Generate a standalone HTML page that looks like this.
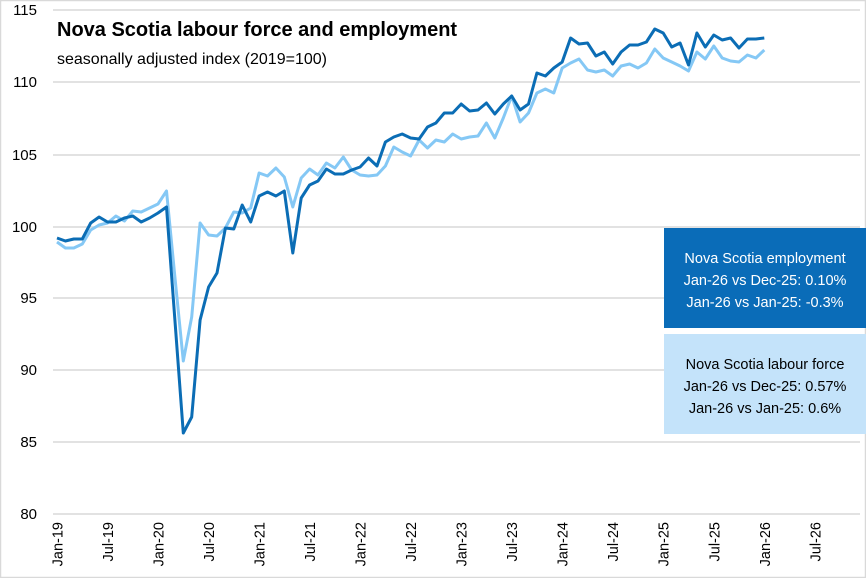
<!DOCTYPE html>
<html><head><meta charset="utf-8"><style>
html,body{margin:0;padding:0;background:#fff;}
svg{display:block;font-family:"Liberation Sans",sans-serif;}
</style></head><body>
<svg width="866" height="578" viewBox="0 0 866 578">
<rect x="0.5" y="0.5" width="865" height="577" fill="#fff" stroke="#d9d9d9" stroke-width="1.5"/>
<g stroke="#d9d9d9" stroke-width="1.5">
<line x1="53" x2="860" y1="10" y2="10"/>
<line x1="53" x2="860" y1="82" y2="82"/>
<line x1="53" x2="860" y1="155" y2="155"/>
<line x1="53" x2="860" y1="227" y2="227"/>
<line x1="53" x2="860" y1="298" y2="298"/>
<line x1="53" x2="860" y1="370" y2="370"/>
<line x1="53" x2="860" y1="442" y2="442"/>
<line x1="53" x2="860" y1="514" y2="514"/>
</g>
<g font-size="15" fill="#000" text-anchor="end">
<text x="37" y="15">115</text>
<text x="37" y="87">110</text>
<text x="37" y="160">105</text>
<text x="37" y="232">100</text>
<text x="37" y="303">95</text>
<text x="37" y="375">90</text>
<text x="37" y="447">85</text>
<text x="37" y="519">80</text>
</g>
<g font-size="14.5" fill="#000" text-anchor="end" id="xl"></g>
<text x="57" y="36" font-size="20" font-weight="bold">Nova Scotia labour force and employment</text>
<text x="57" y="64" font-size="16">seasonally adjusted index (2019=100)</text>
<polyline id="lf" fill="none" stroke="#85c8f5" stroke-width="3" stroke-linejoin="round"/>
<polyline id="em" fill="none" stroke="#0b6db5" stroke-width="3" stroke-linejoin="round"/>
<rect x="664" y="228" width="202" height="100" fill="#0a6cb8"/>
<rect x="664" y="334" width="202" height="100" fill="#c4e3fa"/>
<g font-size="14.5" text-anchor="middle">
<text x="765" y="263" fill="#fff">Nova Scotia employment</text>
<text x="765" y="285" fill="#fff">Jan-26 vs Dec-25: 0.10%</text>
<text x="765" y="307" fill="#fff">Jan-26 vs Jan-25: -0.3%</text>
<text x="765" y="369" fill="#000">Nova Scotia labour force</text>
<text x="765" y="391" fill="#000">Jan-26 vs Dec-25: 0.57%</text>
<text x="765" y="413" fill="#000">Jan-26 vs Jan-25: 0.6%</text>
</g>
</svg>
<script>
var dk=[238,241,239,239,223,217,222,222,218,216,222,218,213,207,320,433,417,320,287,273,228,229,205,222,196,192,196,191,253,198,185,181,169,174,174,170,167,158,166,142,137,134,138,139,127,123,113,113,104,111,110,103,114,104,96,110,104,73,76,68,62,38,44,43,56,52,64,52,45,45,42,29,33,47,43,65,33,47,35,40,38,48,39,39,38];
var lt=[242,248,248,244,230,225,223,216,221,211,212,208,204,191,277,361,317,223,235,236,228,212,213,208,173,176,168,177,207,178,169,175,163,168,157,170,175,176,175,166,147,152,156,140,148,140,142,134,139,137,136,123,138,118,96,122,113,93,89,93,68,63,59,70,72,70,76,66,64,68,63,49,58,62,66,71,52,59,46,58,61,62,55,58,50];
function pts(a){return a.map(function(y,i){return (57+8.42*i).toFixed(1)+","+y}).join(" ");}
document.getElementById("em").setAttribute("points",pts(dk));
document.getElementById("lf").setAttribute("points",pts(lt));
var g=document.getElementById("xl"),ns="http://www.w3.org/2000/svg";
for(var k=0;k<16;k++){var yr=19+Math.floor(k/2);var lab=(k%2?"Jul-":"Jan-")+yr;
var x=57+8.42*6*k;var t=document.createElementNS(ns,"text");
t.setAttribute("transform","translate("+(x+5.5)+",522) rotate(-90)");t.textContent=lab;g.appendChild(t);}
</script>
</body></html>
